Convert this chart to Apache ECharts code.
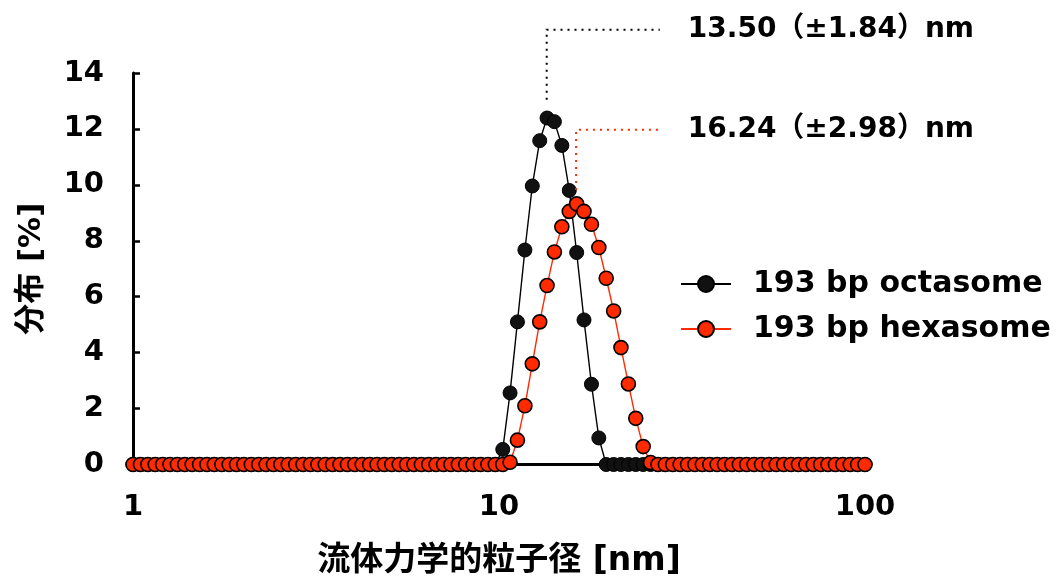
<!DOCTYPE html>
<html>
<head>
<meta charset="utf-8">
<script src="https://cdn.jsdelivr.net/npm/echarts@6/dist/echarts.min.js"></script>
<style>
  html, body { margin: 0; padding: 0; background: #ffffff; }
  #chart { width: 1063px; height: 584px; }
</style>
</head>
<body>
<div id="chart"></div>
<script>
// Hydrodynamic diameter bins [nm] (log-spaced, 1–100 nm)
const sizes = [
  1.000, 1.048, 1.098, 1.150, 1.205, 1.262, 1.322, 1.385, 1.451, 1.520,
  1.592, 1.668, 1.748, 1.831, 1.918, 2.009, 2.105, 2.205, 2.310, 2.420,
  2.535, 2.656, 2.783, 2.915, 3.054, 3.199, 3.352, 3.511, 3.678, 3.854,
  4.037, 4.229, 4.431, 4.642, 4.863, 5.094, 5.337, 5.591, 5.857, 6.136,
  6.428, 6.734, 7.055, 7.391, 7.743, 8.111, 8.498, 8.902, 9.326, 9.770,
  10.24, 10.72, 11.23, 11.77, 12.33, 12.92, 13.53, 14.17, 14.85, 15.56,
  16.30, 17.07, 17.89, 18.74, 19.63, 20.57, 21.54, 22.57, 23.64, 24.77,
  25.95, 27.19, 28.48, 29.84, 31.26, 32.75, 34.30, 35.94, 37.65, 39.44,
  41.32, 43.29, 45.35, 47.51, 49.77, 52.14, 54.62, 57.22, 59.95, 62.80,
  65.79, 68.93, 72.21, 75.65, 79.25, 83.02, 86.97, 91.12, 95.45, 100.0
];

// Size distribution [%], one value per bin
const octasome = [
  0, 0, 0, 0, 0, 0, 0, 0, 0, 0,
  0, 0, 0, 0, 0, 0, 0, 0, 0, 0,
  0, 0, 0, 0, 0, 0, 0, 0, 0, 0,
  0, 0, 0, 0, 0, 0, 0, 0, 0, 0,
  0, 0, 0, 0, 0, 0, 0, 0, 0, 0,
  0.54, 2.56, 5.10, 7.67, 9.96, 11.58, 12.39, 12.26, 11.41, 9.80,
  7.58, 5.17, 2.87, 0.95, 0, 0, 0, 0, 0, 0,
  0, 0, 0, 0, 0, 0, 0, 0, 0, 0,
  0, 0, 0, 0, 0, 0, 0, 0, 0, 0,
  0, 0, 0, 0, 0, 0, 0, 0, 0, 0
];

const hexasome = [
  0, 0, 0, 0, 0, 0, 0, 0, 0, 0,
  0, 0, 0, 0, 0, 0, 0, 0, 0, 0,
  0, 0, 0, 0, 0, 0, 0, 0, 0, 0,
  0, 0, 0, 0, 0, 0, 0, 0, 0, 0,
  0, 0, 0, 0, 0, 0, 0, 0, 0, 0,
  0, 0.08, 0.87, 2.10, 3.60, 5.10, 6.40, 7.60, 8.50, 9.05,
  9.32, 9.05, 8.59, 7.76, 6.66, 5.49, 4.18, 2.88, 1.65, 0.64,
  0.07, 0, 0, 0, 0, 0, 0, 0, 0, 0,
  0, 0, 0, 0, 0, 0, 0, 0, 0, 0,
  0, 0, 0, 0, 0, 0, 0, 0, 0, 0
];

const seriesNames = ['193 bp octasome', '193 bp hexasome'];

// Mean diameter (± SD) of each sample [nm]
const peakMean = [13.50, 16.24];
const peakSd = [1.84, 2.98];

// Y axis range and step [%]
const yMin = 0, yMax = 14, yStep = 2;

const FONT = "'DejaVu Sans', 'Noto Sans CJK JP', sans-serif";
const RED = '#ff2a00';
const colors = ['#000000', RED];

// Leader lines: [start %, elbow %] on the y axis, and the diameter where they end
const leaderY = [[13.04, 15.55], [9.82, 11.97]];
const leaderEndX = 27.5;

function pairs(values) {
  return sizes.map((s, i) => [s, values[i]]);
}

function peakLabel(i) {
  return peakMean[i].toFixed(2) + '（±' + peakSd[i].toFixed(2) + '）nm';
}

const chart = echarts.init(document.getElementById('chart'), null, { renderer: 'canvas' });

chart.setOption({
  animation: false,
  backgroundColor: '#ffffff',
  grid: { left: 133, right: 198, top: 73, bottom: 119.5, containLabel: false },
  legend: {
    orient: 'vertical',
    left: 680,
    top: 269,
    padding: 0,
    itemWidth: 50,
    itemHeight: 20,
    itemGap: 15,
    textStyle: {
      color: '#000',
      fontSize: 30,
      fontWeight: 'bold',
      fontFamily: FONT,
      padding: [0, 0, 0, 17]
    },
    data: seriesNames
  },
  xAxis: {
    type: 'log',
    logBase: 10,
    min: 1,
    max: 100,
    name: '流体力学的粒子径 [nm]',
    nameLocation: 'middle',
    nameGap: 80,
    nameTextStyle: { color: '#000', fontSize: 33, fontWeight: 'bold', fontFamily: FONT },
    axisLine: { show: true, lineStyle: { color: '#000', width: 3 } },
    axisTick: { show: false },
    minorTick: { show: false },
    splitLine: { show: false },
    axisLabel: { color: '#000', fontSize: 29, fontWeight: 'bold', fontFamily: FONT, margin: 28 }
  },
  yAxis: {
    type: 'value',
    min: yMin,
    max: yMax,
    interval: yStep,
    name: '分布 [%]',
    nameLocation: 'middle',
    nameGap: 86,
    nameTextStyle: { color: '#000', fontSize: 31, fontWeight: 'bold', fontFamily: FONT },
    axisLine: { show: true, lineStyle: { color: '#000', width: 3 } },
    axisTick: { show: true, inside: true, length: 7, lineStyle: { color: '#000', width: 2.5 } },
    splitLine: { show: false },
    axisLabel: { color: '#000', fontSize: 29, fontWeight: 'bold', fontFamily: FONT, margin: 29 }
  },
  series: [
    {
      name: seriesNames[0],
      type: 'line',
      data: pairs(octasome),
      showAllSymbol: true,
      symbol: 'circle',
      symbolSize: 14,
      lineStyle: { color: '#000', width: 1.4 },
      itemStyle: { color: '#111', borderColor: '#000', borderWidth: 1 },
      emphasis: { disabled: true }
    },
    {
      name: seriesNames[1],
      type: 'line',
      data: pairs(hexasome),
      showAllSymbol: true,
      symbol: 'circle',
      symbolSize: 14,
      lineStyle: { color: RED, width: 1.4 },
      itemStyle: { color: RED, borderColor: '#000', borderWidth: 1.6 },
      emphasis: { disabled: true }
    }
  ]
});

// Dotted leader from each peak up and to the right, ending at its mean-size label
function drawLeaders() {
  const graphics = [];
  peakMean.forEach((m, i) => {
    const a = chart.convertToPixel({ gridIndex: 0 }, [m, leaderY[i][0]]);
    const b = chart.convertToPixel({ gridIndex: 0 }, [m, leaderY[i][1]]);
    const c = chart.convertToPixel({ gridIndex: 0 }, [leaderEndX, leaderY[i][1]]);
    graphics.push({
      type: 'polyline',
      silent: true,
      z: 10,
      shape: { points: [a, b, c] },
      style: { stroke: colors[i], lineWidth: 2, lineDash: [2, 5], fill: null }
    });
    graphics.push({
      type: 'text',
      silent: true,
      z: 10,
      x: c[0] + 28,
      y: c[1],
      style: {
        text: peakLabel(i),
        fill: '#000',
        font: 'bold 28px ' + FONT,
        verticalAlign: 'middle',
        align: 'left'
      }
    });
  });
  chart.setOption({ graphic: graphics });
}
drawLeaders();
</script>
</body>
</html>
